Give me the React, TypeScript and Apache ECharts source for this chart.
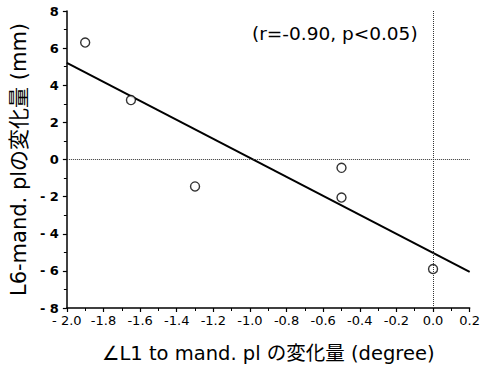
import React, { useEffect, useRef } from "react";
import * as echarts from "echarts";

const xValues = [-1.9, -1.65, -1.3, -0.5, -0.5, 0.0];
const yValues = [6.3, 3.2, -1.45, -0.45, -2.05, -5.9];
const fitX = [-2.0, 0.2];
const fitY = [5.2, -6.05];
const xTickLabels = ["- 2.0", "-1.8", "-1.6", "-1.4", "-1.2", "-1.0", "-0.8", "-0.6", "-0.4", "-0.2", "0.0", "0.2"];
const yTickLabels = ["- 8", "- 6", "- 4", "- 2", "0", "2", "4", "6", "8"];
const annotation = "(r=-0.90, p<0.05)";
const xTitle = "∠L1 to mand. pl の変化量 (degree)";
const yTitle = "L6-mand. plの変化量 (mm)";

const FONT = "'DejaVu Sans', 'Noto Sans CJK JP', sans-serif";

export default function App() {
  const ref = useRef<HTMLDivElement>(null);
  useEffect(() => {
    if (!ref.current) return;
    const chart = echarts.init(ref.current, null, { renderer: "svg" });
    const points = xValues.map((x, i) => [x, yValues[i]]);
    const fit = fitX.map((x, i) => [x, fitY[i]]);
    chart.setOption({
      animation: false,
      backgroundColor: "#fff",
      grid: { left: 63, right: 12, top: 11, bottom: 62, containLabel: false },
      xAxis: {
        type: "value",
        min: -2.0,
        max: 0.2,
        interval: 0.2,
        name: xTitle,
        nameLocation: "middle",
        nameGap: 36,
        nameTextStyle: { fontFamily: FONT, fontSize: 19.5, color: "#000" },
        axisLine: { onZero: false, lineStyle: { color: "#000", width: 1.5 } },
        axisTick: { show: true, inside: false, length: 4, lineStyle: { color: "#000", width: 1.2 } },
        minorTick: { show: true, splitNumber: 2, length: 3, lineStyle: { color: "#000", width: 1 } },
        splitLine: { show: false },
        axisLabel: {
          fontFamily: FONT,
          fontSize: 13,
          color: "#000",
          margin: 6,
          formatter: (v: number) => {
            const idx = Math.round((v + 2.0) / 0.2);
            return xTickLabels[idx] ?? "";
          },
        },
      },
      yAxis: {
        type: "value",
        min: -8,
        max: 8,
        interval: 2,
        name: yTitle,
        nameLocation: "middle",
        nameGap: 36,
        nameRotate: 90,
        nameTextStyle: { fontFamily: FONT, fontSize: 21, color: "#000" },
        axisLine: { onZero: false, lineStyle: { color: "#000", width: 1.5 } },
        axisTick: { show: true, inside: false, length: 4, lineStyle: { color: "#000", width: 1.2 } },
        minorTick: { show: true, splitNumber: 2, length: 3, lineStyle: { color: "#000", width: 1 } },
        splitLine: { show: false },
        axisLabel: {
          fontFamily: FONT,
          fontSize: 13,
          fontWeight: "bold",
          color: "#000",
          margin: 8,
          formatter: (v: number) => {
            const idx = Math.round((v + 8) / 2);
            return yTickLabels[idx] ?? "";
          },
        },
      },
      series: [
        {
          type: "line",
          data: fit,
          showSymbol: false,
          symbol: "none",
          lineStyle: { color: "#000", width: 2 },
          z: 3,
          markLine: {
            silent: true,
            symbol: "none",
            label: { show: false },
            lineStyle: { color: "#333", type: [1, 1], width: 1 },
            data: [{ xAxis: 0 }, { yAxis: 0 }],
          },
        },
        {
          type: "scatter",
          data: points,
          symbol: "circle",
          symbolSize: 9,
          itemStyle: { color: "#fff", borderColor: "#000", borderWidth: 1.4 },
          z: 4,
        },
      ],
      graphic: [
        {
          type: "text",
          left: 252,
          top: 24,
          style: { text: annotation, fontFamily: FONT, fontSize: 18.5, fill: "#000" },
        },
      ],
    });
    return () => chart.dispose();
  }, []);
  return <div ref={ref} style={{ width: 483, height: 370, position: "absolute", left: 0, top: 0 }} />;
}
